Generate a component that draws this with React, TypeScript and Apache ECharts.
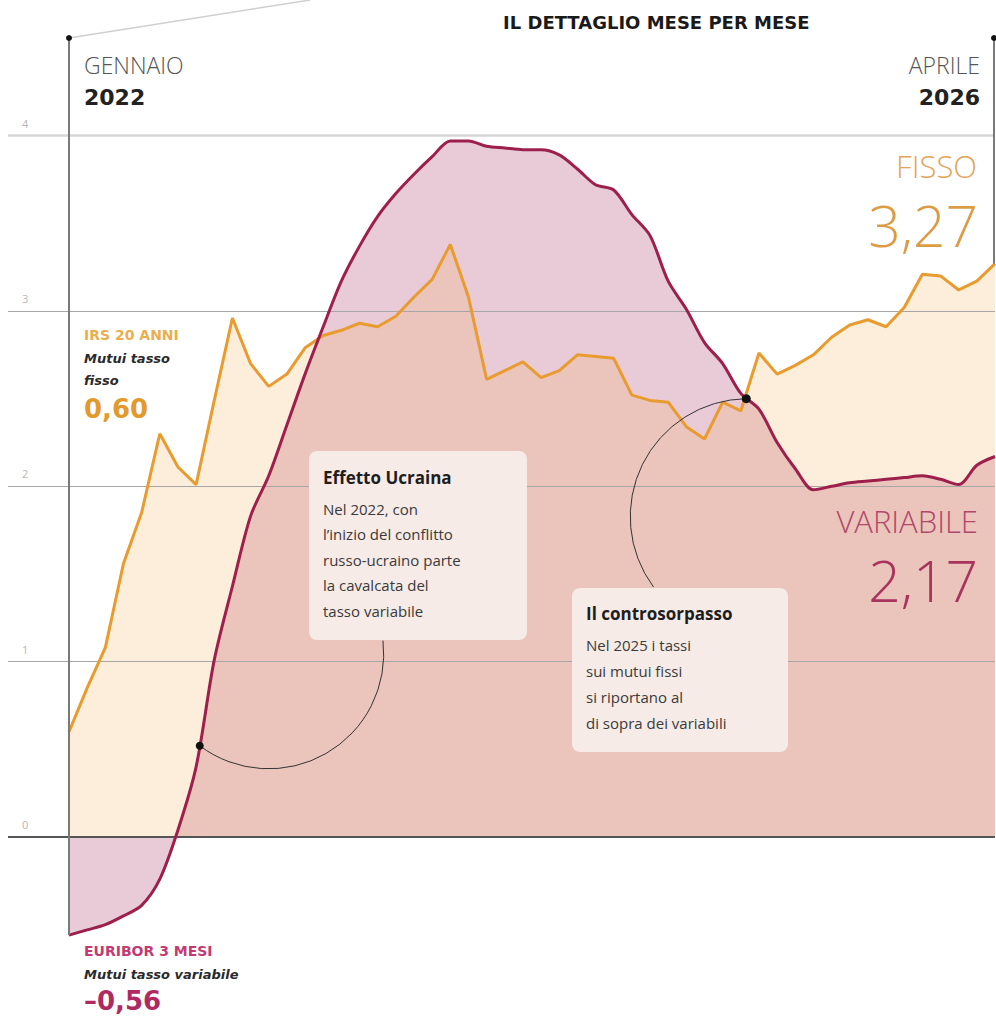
import React, { useEffect, useRef } from 'react';
import * as echarts from 'echarts';

// ---- DATA ----
const monthNames = ['gen', 'feb', 'mar', 'apr', 'mag', 'giu', 'lug', 'ago', 'set', 'ott', 'nov', 'dic'];
const months: string[] = [];
for (let y = 2022; y <= 2026; y++) {
  for (let m = 0; m < 12; m++) {
    if (y === 2026 && m > 3) break;
    months.push(`${monthNames[m]} ${y}`);
  }
}

// IRS 20 anni (mutui tasso fisso), monthly
const fisso = [
  0.60, 0.85, 1.08, 1.56, 1.85, 2.30, 2.11, 2.01, 2.49, 2.96, 2.70, 2.57,
  2.64, 2.79, 2.86, 2.89, 2.93, 2.91, 2.97, 3.08, 3.18, 3.38, 3.08, 2.61,
  2.66, 2.71, 2.62, 2.66, 2.75, 2.74, 2.73, 2.52, 2.49, 2.48, 2.34, 2.27,
  2.48, 2.43, 2.76, 2.64, 2.69, 2.75, 2.85, 2.92, 2.95, 2.91, 3.02, 3.21,
  3.20, 3.12, 3.17, 3.27,
];

// Euribor 3 mesi (mutui tasso variabile), monthly
const variabile = [
  -0.56, -0.53, -0.50, -0.45, -0.39, -0.24, 0.04, 0.40, 1.01, 1.43, 1.83, 2.06,
  2.35, 2.64, 2.91, 3.17, 3.37, 3.54, 3.67, 3.78, 3.88, 3.97, 3.97, 3.94,
  3.93, 3.92, 3.92, 3.89, 3.81, 3.72, 3.69, 3.55, 3.43, 3.17, 3.01, 2.82,
  2.70, 2.53, 2.44, 2.25, 2.10, 1.98, 2.00, 2.02, 2.03, 2.04, 2.05, 2.06,
  2.04, 2.01, 2.12, 2.17,
];

const yTicks = [0, 1, 2, 3, 4];

// annotation anchor points (month index, value)
const annotationPoints: [number, number][] = [
  [7.2, 0.52],
  [37.3, 2.5],
];

const fmt = (v: number) => (v < 0 ? '\u2013' : '') + Math.abs(v).toFixed(2).replace('.', ',');

const SANS = "'Open Sans', 'DejaVu Sans', sans-serif";
const WIDE = "'DejaVu Sans', sans-serif";

export default function App() {
  const ref = useRef<HTMLDivElement>(null);

  useEffect(() => {
    if (!ref.current) return;
    const chart = echarts.init(ref.current, null, { renderer: 'svg' });

    const fissoData = fisso.map((v, i) => [i, v]);
    const varData = variabile.map((v, i) => [i, v]);
    const last = months.length - 1;

    chart.setOption({
      animation: false,
      grid: { left: 8, right: 1, top: 48, bottom: 4.7, containLabel: false },
      xAxis: { type: 'value', min: -3.36, max: last, show: false },
      yAxis: {
        type: 'value',
        min: -1,
        max: 4.5,
        interval: 1,
        axisLine: { show: false },
        axisTick: { show: false },
        splitLine: { show: false },
        axisLabel: {
          inside: true,
          margin: 14,
          verticalAlign: 'bottom',
          padding: [0, 0, 7, 0],
          color: '#b5b5b5',
          fontSize: 11,
          fontFamily: SANS,
          showMinLabel: false,
          showMaxLabel: false,
          formatter: (v: number) => (yTicks.includes(v) ? String(v) : ''),
        },
      },
      series: [
        {
          type: 'line',
          data: varData,
          smooth: 0.3,
          symbol: 'none',
          lineStyle: { width: 0 },
          areaStyle: { color: '#E9CBD7', opacity: 1, origin: 0 },
          z: 1,
          silent: true,
          markLine: {
            silent: true,
            symbol: ['none', 'none'],
            label: { show: false },
            z: 5,
            data: yTicks.map((v) => ({
              yAxis: v,
              lineStyle: {
                type: 'solid',
                color: v === 0 ? '#555555' : v === 4 ? '#d6d6d6' : '#a6a6a6',
                width: v === 0 ? 2 : v === 4 ? 2.5 : 1,
              },
            })),
          },
        },
        {
          type: 'line',
          data: fissoData,
          symbol: 'none',
          lineStyle: { width: 0 },
          areaStyle: { color: 'rgba(244,172,88,0.31)', origin: 0 },
          z: 2,
          silent: true,
        },
        {
          type: 'line',
          data: fissoData,
          symbol: 'none',
          lineStyle: { color: '#E89B2E', width: 3 },
          z: 10,
          silent: true,
        },
        {
          type: 'line',
          data: varData,
          smooth: 0.3,
          symbol: 'none',
          lineStyle: { color: '#9C1F4C', width: 3 },
          z: 11,
          silent: true,
        },
      ],
    });

    const px = (x: number, y: number) => chart.convertToPixel({ gridIndex: 0 }, [x, y]) as number[];
    const [xLeft] = px(0, 0);
    const [xRight, yFissoEnd] = px(last, fisso[last]);
    const [, yVarStart] = px(0, variabile[0]);
    const topY = 38;

    const d1 = px(annotationPoints[0][0], annotationPoints[0][1]);
    const d2 = px(annotationPoints[1][0], annotationPoints[1][1]);

    const txt = (text: string, x: number, y: number, o: any = {}) => ({
      type: 'text',
      z: 60,
      silent: true,
      style: {
        text,
        x,
        y,
        fill: o.fill || '#333',
        fontSize: o.fontSize || 14,
        fontWeight: o.fontWeight || 'normal',
        fontStyle: o.fontStyle || 'normal',
        fontFamily: o.fontFamily || SANS,
        align: o.align || 'left',
        verticalAlign: o.verticalAlign || 'middle',
        lineHeight: o.lineHeight,
      },
    });

    const elements: any[] = [
      // top decorations
      { type: 'line', z: 30, silent: true, shape: { x1: xLeft, y1: topY, x2: 310, y2: 0 }, style: { stroke: '#cfcfcf', lineWidth: 1.5 } },
      { type: 'line', z: 30, silent: true, shape: { x1: xLeft, y1: topY, x2: xLeft, y2: yVarStart }, style: { stroke: '#7a7a7a', lineWidth: 2 } },
      { type: 'line', z: 30, silent: true, shape: { x1: xRight - 1, y1: topY, x2: xRight - 1, y2: yFissoEnd }, style: { stroke: '#7a7a7a', lineWidth: 2 } },
      { type: 'circle', z: 31, silent: true, shape: { cx: xLeft, cy: topY, r: 3 }, style: { fill: '#111' } },
      { type: 'circle', z: 31, silent: true, shape: { cx: xRight - 1, cy: topY, r: 3 }, style: { fill: '#111' } },
      txt('IL DETTAGLIO MESE PER MESE', 503, 22, { fontSize: 18, fontWeight: 'bold', fontFamily: WIDE, fill: '#1a1a1a' }),

      txt('GENNAIO', 84, 65, { fontSize: 23, fontWeight: 300, fill: '#555', lineHeight: 24 }),
      txt('2022', 84, 97, { fontSize: 22, fontWeight: 'bold', fontFamily: WIDE, fill: '#222', lineHeight: 24 }),
      txt('APRILE', 980, 65, { fontSize: 23, fontWeight: 300, fill: '#555', align: 'right', lineHeight: 24 }),
      txt('2026', 980, 97, { fontSize: 22, fontWeight: 'bold', fontFamily: WIDE, fill: '#222', align: 'right', lineHeight: 24 }),

      txt('FISSO', 977, 166, { fontSize: 31, fontWeight: 300, fill: '#E2A45A', align: 'right', lineHeight: 30 }),
      txt(fmt(fisso[last]), 978, 225, { fontSize: 57, fontWeight: 300, fill: '#DC9C45', align: 'right', lineHeight: 56 }),
      txt('VARIABILE', 978, 521, { fontSize: 31, fontWeight: 300, fill: '#B0486A', align: 'right', lineHeight: 30 }),
      txt(fmt(variabile[last]), 978, 580, { fontSize: 57, fontWeight: 300, fill: '#A8345E', align: 'right', lineHeight: 56 }),

      txt('IRS 20 ANNI', 84, 335, { fontSize: 14, fontWeight: 'bold', fontFamily: WIDE, fill: '#EAAE4E', lineHeight: 16 }),
      txt('Mutui tasso', 84, 358, { fontSize: 13, fontWeight: 'bold', fontStyle: 'italic', fontFamily: WIDE, fill: '#2a2a2a', lineHeight: 16 }),
      txt('fisso', 84, 380, { fontSize: 13, fontWeight: 'bold', fontStyle: 'italic', fontFamily: WIDE, fill: '#2a2a2a', lineHeight: 16 }),
      txt(fmt(fisso[0]), 84, 409, { fontSize: 26, fontWeight: 'bold', fontFamily: WIDE, fill: '#E39A2C', lineHeight: 26 }),

      txt('EURIBOR 3 MESI', 84, 951, { fontSize: 14, fontWeight: 'bold', fontFamily: WIDE, fill: '#C23A72', lineHeight: 16 }),
      txt('Mutui tasso variabile', 84, 974, { fontSize: 13, fontWeight: 'bold', fontStyle: 'italic', fontFamily: WIDE, fill: '#2a2a2a', lineHeight: 16 }),
      txt(fmt(variabile[0]), 84, 1001, { fontSize: 26, fontWeight: 'bold', fontFamily: WIDE, fill: '#B02A62', lineHeight: 26 }),

      // annotation connectors
      {
        type: 'arc', z: 40, silent: true,
        shape: { cx: d1[0] + 69, cy: d1[1] - 92, r: 115, startAngle: -0.115, endAngle: Math.atan2(92, -69), clockwise: true },
        style: { stroke: '#333', lineWidth: 1, fill: 'none' },
      },
      {
        type: 'arc', z: 40, silent: true,
        shape: { cx: d2[0] + 2, cy: d2[1] + 118, r: 118, startAngle: 2.503, endAngle: Math.atan2(-118, -2) + Math.PI * 2, clockwise: true },
        style: { stroke: '#333', lineWidth: 1, fill: 'none' },
      },
      { type: 'circle', z: 61, silent: true, shape: { cx: d1[0], cy: d1[1], r: 4 }, style: { fill: '#111' } },
      { type: 'circle', z: 61, silent: true, shape: { cx: d2[0], cy: d2[1], r: 4.5 }, style: { fill: '#111' } },

      // box 1
      { type: 'rect', z: 50, silent: true, shape: { x: 309, y: 451, width: 218, height: 189, r: 8 }, style: { fill: '#F6EBE6' } },
      txt('Effetto Ucraina', 323, 477, { fontSize: 17, fontWeight: 'bold', fill: '#1e1e1e', lineHeight: 20 }),
      txt('Nel 2022, con\nl\u2019inizio del conflitto\nrusso-ucraino parte\nla cavalcata del\ntasso variabile', 323, 496, {
        fontSize: 15, fill: '#3a3a3a', verticalAlign: 'top', lineHeight: 25.5,
      }),

      // box 2
      { type: 'rect', z: 50, silent: true, shape: { x: 572, y: 588, width: 216, height: 164, r: 8 }, style: { fill: '#F6EBE6' } },
      txt('Il controsorpasso', 586, 613, { fontSize: 17, fontWeight: 'bold', fill: '#1e1e1e', lineHeight: 20 }),
      txt('Nel 2025 i tassi\nsui mutui fissi\nsi riportano al\ndi sopra dei variabili', 586, 632, {
        fontSize: 15, fill: '#3a3a3a', verticalAlign: 'top', lineHeight: 26,
      }),
    ];

    chart.setOption({ graphic: { elements } });

    return () => chart.dispose();
  }, []);

  return (
    <div
      ref={ref}
      style={{ position: 'fixed', left: 0, top: 0, width: 996, height: 1017, background: '#ffffff' }}
    />
  );
}
